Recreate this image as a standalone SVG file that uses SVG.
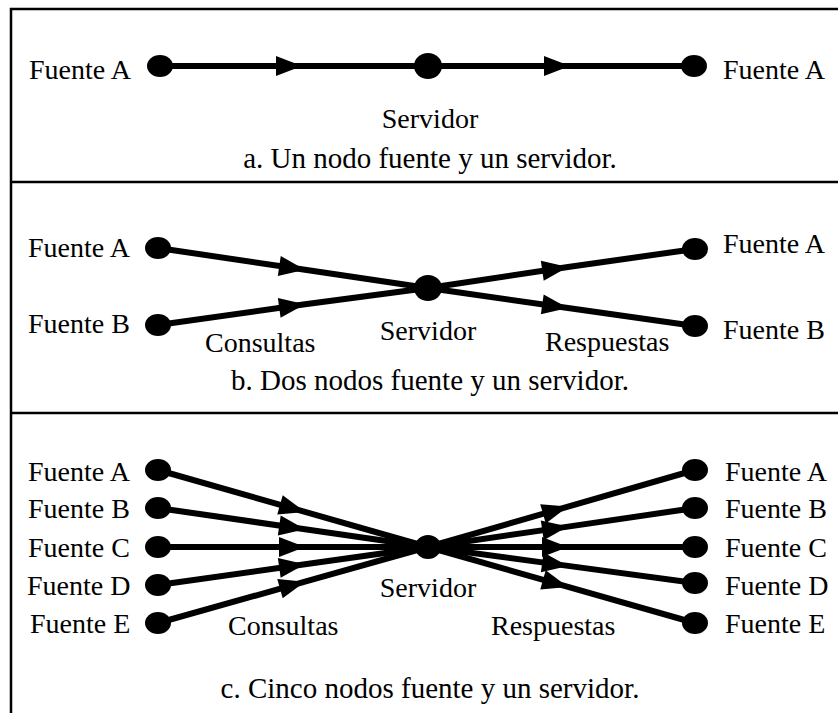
<svg xmlns="http://www.w3.org/2000/svg" width="838" height="713" viewBox="0 0 838 713">
<style>
text{font-family:"Liberation Serif","Times New Roman",serif;font-size:28px;fill:#000}
.cap{font-size:29px;text-anchor:middle}
.mid{text-anchor:middle}
.frame{stroke:#000;stroke-width:2.5;fill:none}
.edge{stroke:#000;stroke-width:6;fill:none;marker-mid:url(#arr)}
.src{fill:#000}
</style>
<defs>
<marker id="arr" markerUnits="userSpaceOnUse" viewBox="0 0 26 20" markerWidth="26" markerHeight="20" refX="26" refY="10" orient="auto" overflow="visible">
<path d="M0,0 L26,10 L0,20 Z" fill="#000"/>
</marker>
</defs>
<g id="frame">
<path class="frame" d="M11,713 V9 H838"/>
<line class="frame" x1="11" y1="182" x2="838" y2="182"/>
<line class="frame" x1="11" y1="413" x2="838" y2="413"/>
</g>
<g id="connectors">
<path class="edge" d="M160,66 L302,66 L428,66"/>
<path class="edge" d="M428,66 L570,66 L694,66"/>
<path class="edge" d="M158,248 L305,269.8 L428,288"/>
<path class="edge" d="M158,325 L305,304.3 L428,288"/>
<path class="edge" d="M428,288 L568,267 L695,249"/>
<path class="edge" d="M428,288 L568,308 L695,326"/>
<path class="edge" d="M158,470 L305,511.9 L428,547"/>
<path class="edge" d="M158,508 L305,529.2 L428,547"/>
<path class="edge" d="M158,547 L305,547 L428,547"/>
<path class="edge" d="M158,585 L305,564.3 L428,547"/>
<path class="edge" d="M158,623 L305,581.7 L428,547"/>
<path class="edge" d="M428,547 L568,506.6 L695,470"/>
<path class="edge" d="M428,547 L568,526.6 L695,508"/>
<path class="edge" d="M428,547 L568,547 L695,547"/>
<path class="edge" d="M428,547 L568,565.9 L695,583"/>
<path class="edge" d="M428,547 L568,586.9 L695,623"/>
</g>
<g id="panel-a">
<g id="a-fuenteA-left"><ellipse class="src" cx="160" cy="66" rx="13" ry="11"/><text x="29" y="79">Fuente A</text></g>
<g id="a-servidor"><ellipse class="src" cx="428" cy="66" rx="14" ry="13"/><text class="mid" x="430" y="128">Servidor</text></g>
<g id="a-fuenteA-right"><ellipse class="src" cx="694" cy="66" rx="13" ry="11"/><text x="723" y="79">Fuente A</text></g>
<text class="cap" x="430" y="168">a. Un nodo fuente y un servidor.</text>
</g>
<g id="panel-b">
<g id="b-fuenteA-left"><ellipse class="src" cx="158" cy="248" rx="13" ry="11"/><text x="28" y="257">Fuente A</text></g>
<g id="b-fuenteB-left"><ellipse class="src" cx="158" cy="325" rx="13" ry="11"/><text x="28" y="333">Fuente B</text></g>
<g id="b-servidor"><ellipse class="src" cx="428" cy="288" rx="14" ry="13"/><text class="mid" x="428" y="340">Servidor</text></g>
<g id="b-fuenteA-right"><ellipse class="src" cx="695" cy="249" rx="13" ry="11"/><text x="723" y="253">Fuente A</text></g>
<g id="b-fuenteB-right"><ellipse class="src" cx="695" cy="326" rx="13" ry="11"/><text x="723" y="339">Fuente B</text></g>
<text x="205" y="352">Consultas</text>
<text x="545" y="351">Respuestas</text>
<text class="cap" x="430" y="390">b. Dos nodos fuente y un servidor.</text>
</g>
<g id="panel-c">
<g id="c-fuenteA-left"><ellipse class="src" cx="158" cy="470" rx="13" ry="11"/><text x="28" y="481">Fuente A</text></g>
<g id="c-fuenteB-left"><ellipse class="src" cx="158" cy="508" rx="13" ry="11"/><text x="28" y="518">Fuente B</text></g>
<g id="c-fuenteC-left"><ellipse class="src" cx="158" cy="547" rx="13" ry="11"/><text x="28" y="557">Fuente C</text></g>
<g id="c-fuenteD-left"><ellipse class="src" cx="158" cy="585" rx="13" ry="11"/><text x="27" y="595">Fuente D</text></g>
<g id="c-fuenteE-left"><ellipse class="src" cx="158" cy="623" rx="13" ry="11"/><text x="30" y="633">Fuente E</text></g>
<g id="c-servidor"><ellipse class="src" cx="428" cy="547" rx="13" ry="12"/><text class="mid" x="428" y="597">Servidor</text></g>
<g id="c-fuenteA-right"><ellipse class="src" cx="695" cy="470" rx="13" ry="11"/><text x="725" y="481">Fuente A</text></g>
<g id="c-fuenteB-right"><ellipse class="src" cx="695" cy="508" rx="13" ry="11"/><text x="725" y="518">Fuente B</text></g>
<g id="c-fuenteC-right"><ellipse class="src" cx="695" cy="547" rx="13" ry="11"/><text x="725" y="557">Fuente C</text></g>
<g id="c-fuenteD-right"><ellipse class="src" cx="695" cy="583" rx="13" ry="11"/><text x="725" y="595">Fuente D</text></g>
<g id="c-fuenteE-right"><ellipse class="src" cx="695" cy="623" rx="13" ry="11"/><text x="725" y="633">Fuente E</text></g>
<text x="228" y="635">Consultas</text>
<text x="491" y="635">Respuestas</text>
<text class="cap" x="430" y="698">c. Cinco nodos fuente y un servidor.</text>
</g>
</svg>
